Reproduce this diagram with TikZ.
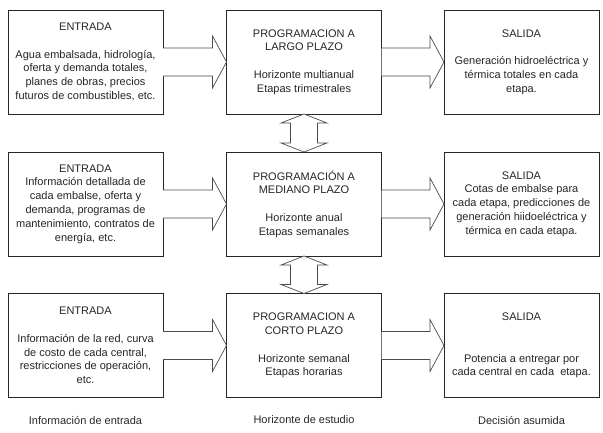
\documentclass[tikz,border=0pt]{standalone}
\usepackage{fontspec}
\setmainfont{Liberation Sans}
\usetikzlibrary{calc}
\tikzset{
  font=\fontsize{11}{13.8}\selectfont,
  box/.style={draw=black!85, line width=0.7pt, fill=white, minimum width=155pt, minimum height=104pt, align=center, inner sep=2pt, outer sep=0pt, text=black!85},
  fat/.style={draw=black!70, line width=0.7pt, fill=white, line join=miter},
  foot/.style={align=center, inner sep=1pt, text=black!85},
}
\begin{document}
\begin{tikzpicture}[x=1pt,y=1pt]
\useasboundingbox (0,0) rectangle (603,-432);
\def\xa{85.5}
\def\xb{304}
\def\xc{521.5}
\def\ya{-62}
\def\yb{-204}
\def\yc{-345.5}
% boxes
\node[box] (in1) at (\xa,\ya) {ENTRADA\\[13.8pt]Agua embalsada, hidrología,\\oferta y demanda totales,\\planes de obras, precios\\futuros de combustibles, etc.};
\node[box] (prog1) at (\xb,\ya) {PROGRAMACION A\\LARGO PLAZO\\[13.8pt]Horizonte multianual\\Etapas trimestrales};
\node[box] (out1) at (\xc,\ya) {SALIDA\\[13.8pt]Generación hidroeléctrica y\\térmica totales en cada\\etapa.};
\node[box] (in2) at (\xa,\yb) {ENTRADA\\Información detallada de\\cada embalse, oferta y\\demanda, programas de\\mantenimiento, contratos de\\energía, etc.};
\node[box] (prog2) at (\xb,\yb) {PROGRAMACIÓN A\\MEDIANO PLAZO\\[13.8pt]Horizonte anual\\Etapas semanales};
\node[box] (out2) at (\xc,\yb) {SALIDA\\Cotas de embalse para\\cada etapa, predicciones de\\generación hiidoeléctrica y\\térmica en cada etapa.};
\node[box] (in3) at (\xa,\yc) {ENTRADA\\[13.8pt]Información de la red, curva\\de costo de cada central,\\restricciones de operación,\\etc.};
\node[box] (prog3) at (\xb,\yc) {PROGRAMACION A\\CORTO PLAZO\\[13.8pt]Horizonte semanal\\Etapas horarias};
\node[box] (out3) at (\xc,\yc) {SALIDA\\[27.6pt]Potencia a entregar por\\cada central en cada\ \ etapa.};
% column captions
\node[foot] (cap1) at (\xa,-420) {Información de entrada};
\node[foot] (cap2) at (\xb,-420) {Horizonte de estudio};
\node[foot] (cap3) at (\xc,-420) {Decisión asumida};
% wide arrows, left to right
\def\sh{14pt}
\def\hh{26pt}
\def\hl{14pt}
\draw[fat] ([yshift=\sh]in1.east) -- ([xshift=-\hl,yshift=\sh]prog1.west) -- ([xshift=-\hl,yshift=\hh]prog1.west) -- (prog1.west) -- ([xshift=-\hl,yshift=-\hh]prog1.west) -- ([xshift=-\hl,yshift=-\sh]prog1.west) -- ([yshift=-\sh]in1.east);
\draw[fat] ([yshift=\sh]prog1.east) -- ([xshift=-\hl,yshift=\sh]out1.west) -- ([xshift=-\hl,yshift=\hh]out1.west) -- (out1.west) -- ([xshift=-\hl,yshift=-\hh]out1.west) -- ([xshift=-\hl,yshift=-\sh]out1.west) -- ([yshift=-\sh]prog1.east);
\draw[fat] ([yshift=\sh]in2.east) -- ([xshift=-\hl,yshift=\sh]prog2.west) -- ([xshift=-\hl,yshift=\hh]prog2.west) -- (prog2.west) -- ([xshift=-\hl,yshift=-\hh]prog2.west) -- ([xshift=-\hl,yshift=-\sh]prog2.west) -- ([yshift=-\sh]in2.east);
\draw[fat] ([yshift=\sh]prog2.east) -- ([xshift=-\hl,yshift=\sh]out2.west) -- ([xshift=-\hl,yshift=\hh]out2.west) -- (out2.west) -- ([xshift=-\hl,yshift=-\hh]out2.west) -- ([xshift=-\hl,yshift=-\sh]out2.west) -- ([yshift=-\sh]prog2.east);
\draw[fat] ([yshift=\sh]in3.east) -- ([xshift=-\hl,yshift=\sh]prog3.west) -- ([xshift=-\hl,yshift=\hh]prog3.west) -- (prog3.west) -- ([xshift=-\hl,yshift=-\hh]prog3.west) -- ([xshift=-\hl,yshift=-\sh]prog3.west) -- ([yshift=-\sh]in3.east);
\draw[fat] ([yshift=\sh]prog3.east) -- ([xshift=-\hl,yshift=\sh]out3.west) -- ([xshift=-\hl,yshift=\hh]out3.west) -- (out3.west) -- ([xshift=-\hl,yshift=-\hh]out3.west) -- ([xshift=-\hl,yshift=-\sh]out3.west) -- ([yshift=-\sh]prog3.east);
% double arrows between horizons
\def\vs{13.5pt}
\def\vh{23pt}
\def\vl{9pt}
\draw[fat] (prog1.south) -- ([xshift=\vh,yshift=-\vl]prog1.south) -- ([xshift=\vs,yshift=-\vl]prog1.south) -- ([xshift=\vs,yshift=\vl]prog2.north) -- ([xshift=\vh,yshift=\vl]prog2.north) -- (prog2.north) -- ([xshift=-\vh,yshift=\vl]prog2.north) -- ([xshift=-\vs,yshift=\vl]prog2.north) -- ([xshift=-\vs,yshift=-\vl]prog1.south) -- ([xshift=-\vh,yshift=-\vl]prog1.south) -- cycle;
\draw[fat] (prog2.south) -- ([xshift=\vh,yshift=-\vl]prog2.south) -- ([xshift=\vs,yshift=-\vl]prog2.south) -- ([xshift=\vs,yshift=\vl]prog3.north) -- ([xshift=\vh,yshift=\vl]prog3.north) -- (prog3.north) -- ([xshift=-\vh,yshift=\vl]prog3.north) -- ([xshift=-\vs,yshift=\vl]prog3.north) -- ([xshift=-\vs,yshift=-\vl]prog2.south) -- ([xshift=-\vh,yshift=-\vl]prog2.south) -- cycle;
\end{tikzpicture}
\end{document}
